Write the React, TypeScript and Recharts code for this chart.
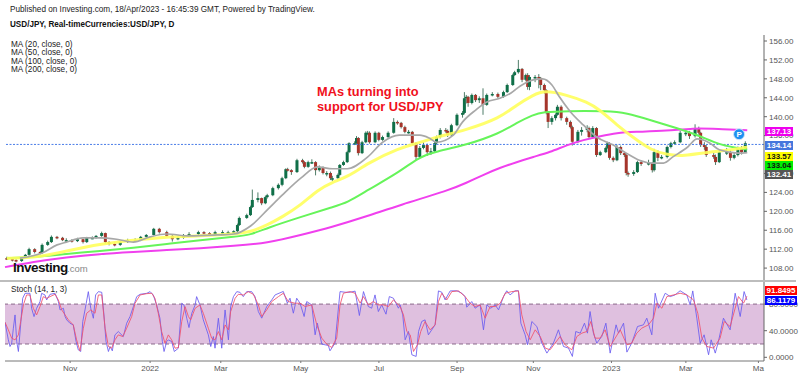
import {
  Bar,
  ComposedChart,
  Line,
  ReferenceArea,
  ReferenceDot,
  ReferenceLine,
  XAxis,
  YAxis,
} from "recharts";

// daily candles (session number from the left edge)
const candleBars = [
  1, 4, 6, 9, 11, 13, 16, 19, 20, 23,
  25, 28, 31, 33, 36, 39, 42, 44, 47, 49,
  52, 54, 56, 59, 62, 66, 70, 73, 76, 80,
  83, 87, 90, 93, 96, 99, 104, 107, 110, 113,
  117, 120, 123, 125, 126, 130, 132, 133, 136, 138,
  140, 141, 144, 147, 149, 151, 152, 154, 157, 160,
  161, 163, 165, 167, 169, 171, 173, 175, 176, 179,
  180, 182, 184, 185, 188, 189, 190, 192, 194, 195,
  196, 199, 201, 203, 206, 209, 211, 213, 215, 217,
  219, 221, 223, 225, 227, 229, 231, 232, 234, 237,
  238, 240, 243, 246, 247, 248, 249, 251, 253, 255,
  257, 259, 262, 265, 268, 270, 273, 274, 276, 278,
  280, 281, 282, 285, 287, 288, 290, 291, 292, 294,
  296, 297, 299, 302, 304, 305, 308, 310, 313, 314,
  316, 318, 320, 323, 324, 325, 327, 329, 331, 333,
  334, 335, 338, 340, 342, 346, 348, 349, 351, 353,
  356, 358, 360, 363, 366, 368, 371, 373, 374, 376,
  377, 381, 382, 384, 388, 390, 392, 394, 396, 398,
];

const closes = [
  109.9, 109.7, 109.5, 110.1, 110.8, 112.0, 111.4, 111.2, 112.9, 113.5,
  114.6, 114.4, 113.9, 113.9, 113.7, 114.1, 113.5, 114.4, 114.4, 114.8,
  115.4, 113.5, 113.1, 112.9, 113.5, 113.9, 113.9, 114.6, 115.0, 116.3,
  115.6, 114.8, 114.1, 114.4, 115.0, 115.2, 115.6, 115.4, 115.0, 115.6,
  115.6, 115.6, 115.8, 117.1, 118.6, 119.2, 120.9, 122.4, 122.8, 121.7,
  123.0, 123.4, 124.9, 125.6, 127.0, 128.9, 128.7, 128.3, 130.8, 130.4,
  129.4, 130.4, 130.4, 128.7, 129.2, 128.1, 128.1, 127.0, 127.0, 127.7,
  129.8, 130.4, 132.5, 134.4, 134.4, 135.5, 132.3, 134.6, 136.6, 136.6,
  134.6, 136.6, 135.1, 135.7, 136.6, 138.9, 138.7, 137.8, 136.8, 136.8,
  134.4, 131.5, 133.4, 134.0, 132.5, 132.7, 134.4, 135.7, 137.2, 137.0,
  136.1, 138.2, 140.4, 140.8, 143.9, 144.2, 142.9, 144.6, 143.5, 143.9,
  142.5, 144.6, 144.8, 144.2, 145.2, 146.7, 148.8, 149.4, 150.1, 147.8,
  148.8, 146.3, 148.4, 148.4, 148.2, 146.7, 145.6, 140.8, 138.9, 139.7,
  140.4, 142.1, 139.7, 138.9, 137.8, 134.7, 136.8, 137.2, 137.6, 135.7,
  137.6, 131.9, 132.5, 133.4, 134.4, 131.3, 130.8, 133.6, 132.3, 131.9,
  128.1, 127.9, 128.3, 130.4, 130.0, 130.2, 128.7, 132.5, 131.3, 131.5,
  133.6, 134.4, 134.6, 136.6, 136.6, 135.9, 137.6, 136.6, 134.0, 133.6,
  131.9, 131.5, 130.4, 132.5, 132.5, 131.3, 131.9, 133.4, 132.5, 134.4,
];

const opens = [
  110.1, 109.9, 109.7, 109.5, 110.1, 110.8, 112.0, 111.4, 111.2, 112.9,
  113.5, 114.6, 114.4, 113.9, 113.9, 113.7, 114.1, 113.5, 114.4, 114.4,
  114.8, 115.4, 113.5, 113.1, 112.9, 113.5, 113.9, 113.9, 114.6, 115.0,
  116.3, 115.6, 114.8, 114.1, 114.4, 115.0, 115.2, 115.6, 115.4, 115.0,
  115.6, 115.6, 115.6, 115.8, 117.1, 118.6, 119.2, 120.9, 122.4, 122.8,
  121.7, 123.0, 123.4, 124.9, 125.6, 127.0, 128.9, 128.7, 128.3, 130.8,
  130.4, 129.4, 130.4, 130.4, 128.7, 129.2, 128.1, 128.1, 127.0, 127.0,
  127.7, 129.8, 130.4, 132.5, 134.4, 134.4, 135.5, 132.3, 134.6, 136.6,
  136.6, 134.6, 136.6, 135.1, 135.7, 136.6, 138.9, 138.7, 137.8, 136.8,
  136.8, 134.4, 131.5, 133.4, 134.0, 132.5, 132.7, 134.4, 135.7, 137.2,
  137.0, 136.1, 138.2, 140.4, 140.8, 143.9, 144.2, 142.9, 144.6, 143.5,
  143.9, 142.5, 144.6, 144.8, 144.2, 145.2, 146.7, 148.8, 149.4, 150.1,
  147.8, 148.8, 146.3, 148.4, 148.4, 148.2, 146.7, 145.6, 140.8, 138.9,
  139.7, 140.4, 142.1, 139.7, 138.9, 137.8, 134.7, 136.8, 137.2, 137.6,
  135.7, 137.6, 131.9, 132.5, 133.4, 134.4, 131.3, 130.8, 133.6, 132.3,
  131.9, 128.1, 127.9, 128.3, 130.4, 130.0, 130.2, 128.7, 132.5, 131.3,
  131.5, 133.6, 134.4, 134.6, 136.6, 136.6, 135.9, 137.6, 136.6, 134.0,
  133.6, 131.9, 131.5, 130.4, 132.5, 132.5, 131.3, 131.9, 133.4, 132.5,
];

const highs = [
  110.4, 110.2, 109.9, 110.3, 111.0, 112.3, 112.2, 111.6, 113.2, 113.8,
  114.9, 114.8, 114.6, 114.3, 114.1, 114.4, 114.2, 114.6, 114.7, 115.0,
  115.7, 115.5, 113.7, 113.4, 113.7, 114.2, 114.3, 114.8, 115.2, 116.5,
  116.5, 115.9, 115.0, 114.7, 115.2, 115.6, 115.9, 115.8, 115.6, 115.9,
  116.0, 115.9, 116.0, 117.4, 118.9, 119.5, 121.2, 124.6, 124.0, 122.9,
  123.3, 123.7, 125.2, 125.9, 127.3, 129.1, 129.2, 128.9, 131.1, 131.1,
  130.6, 130.7, 131.0, 130.6, 129.7, 129.5, 128.5, 128.4, 127.5, 128.0,
  130.0, 130.7, 132.8, 134.6, 134.8, 135.9, 135.7, 134.9, 136.9, 137.0,
  136.9, 136.9, 136.8, 136.0, 136.9, 139.7, 139.2, 138.9, 138.1, 137.2,
  137.0, 134.6, 133.8, 134.6, 134.3, 133.4, 134.7, 136.0, 137.6, 137.6,
  137.3, 138.5, 140.7, 141.2, 145.2, 144.6, 144.4, 144.9, 144.8, 144.3,
  146.0, 144.9, 145.2, 145.1, 145.5, 147.0, 149.1, 149.7, 152.0, 150.3,
  149.1, 149.2, 148.8, 148.8, 149.0, 148.4, 147.0, 145.8, 141.2, 140.1,
  140.7, 142.5, 142.4, 140.0, 139.2, 138.1, 137.2, 137.8, 138.2, 137.9,
  138.0, 137.8, 132.8, 133.7, 134.7, 134.6, 131.6, 134.1, 133.9, 132.6,
  132.1, 128.4, 128.7, 130.7, 130.8, 130.9, 130.4, 133.2, 132.9, 131.9,
  133.9, 134.7, 135.0, 137.0, 137.2, 137.0, 138.4, 137.9, 136.8, 134.6,
  134.0, 132.4, 132.0, 133.0, 133.4, 133.0, 132.4, 133.7, 133.8, 134.8,
];

const lows = [
  109.7, 109.4, 109.2, 109.3, 110.0, 110.6, 111.1, 110.9, 111.0, 112.7,
  113.3, 114.1, 113.7, 113.6, 113.4, 113.5, 113.2, 113.3, 114.1, 114.2,
  114.6, 113.2, 112.8, 112.6, 112.7, 113.3, 113.6, 113.7, 114.4, 114.9,
  115.3, 114.6, 113.6, 113.9, 114.2, 114.9, 115.0, 115.1, 114.8, 114.8,
  115.2, 115.3, 115.4, 115.6, 116.9, 118.4, 119.0, 120.7, 121.9, 121.3,
  121.5, 122.7, 123.2, 124.6, 125.3, 126.8, 128.4, 127.7, 128.1, 130.1,
  129.1, 129.2, 130.0, 127.6, 128.4, 127.8, 127.4, 126.6, 126.4, 126.9,
  127.5, 129.6, 130.2, 132.3, 134.0, 134.2, 131.8, 132.1, 134.4, 136.1,
  134.3, 134.4, 134.8, 134.9, 135.5, 136.4, 138.3, 137.5, 136.5, 136.4,
  134.1, 130.8, 131.2, 133.1, 131.7, 131.9, 132.4, 134.1, 135.4, 136.6,
  135.7, 135.9, 138.0, 139.8, 140.5, 142.8, 142.1, 142.6, 143.1, 142.9,
  140.4, 142.3, 144.3, 143.9, 144.0, 145.0, 146.5, 148.6, 149.1, 147.3,
  147.5, 145.7, 145.6, 147.3, 146.0, 145.6, 144.9, 140.5, 137.6, 138.3,
  139.2, 140.2, 139.2, 138.3, 137.5, 133.9, 134.4, 136.0, 136.7, 135.3,
  135.4, 131.5, 131.7, 132.3, 133.2, 130.9, 130.4, 130.6, 131.9, 131.5,
  127.6, 127.3, 127.5, 128.1, 129.6, 129.7, 128.2, 128.4, 130.6, 131.0,
  131.2, 133.3, 134.1, 134.4, 135.9, 135.3, 135.6, 136.2, 133.6, 133.0,
  131.5, 131.1, 129.8, 130.2, 131.9, 130.7, 131.0, 131.6, 132.0, 132.3,
];

// moving averages: [session, value]
const ma20Points = [
  [8, 110.1], [15, 110.6], [20, 111.2], [28, 112.9], [33, 113.5], [42, 114.4], [51, 114.4], [60, 114.1],
  [69, 113.5], [78, 114.6], [87, 115.2], [99, 114.8], [114, 115.0], [123, 115.2], [132, 116.9], [141, 120.3],
  [149, 123.4], [159, 127.0], [168, 129.4], [176, 129.0], [184, 129.0], [195, 131.5], [203, 134.6], [212, 136.1],
  [223, 136.1], [228, 135.5], [232, 134.6], [241, 136.1], [246, 138.9], [253, 141.4], [259, 143.1], [266, 143.9],
  [272, 145.0], [277, 146.5], [284, 147.8], [289, 148.0], [294, 146.7], [298, 144.2], [304, 141.0], [311, 138.2],
  [318, 135.7], [327, 134.0], [334, 132.3], [341, 130.8], [348, 130.2], [354, 130.2], [359, 131.5], [367, 133.6],
  [372, 135.3], [379, 134.4], [384, 133.0], [394, 132.3], [399, 132.41],
];

const ma50Points = [
  [1, 110.1], [10, 110.1], [20, 110.5], [33, 111.6], [51, 113.1], [69, 113.9], [87, 114.6], [105, 114.8],
  [123, 115.2], [132, 115.6], [141, 117.1], [149, 118.8], [159, 121.3], [168, 124.5], [176, 126.2], [184, 127.2],
  [195, 130.2], [212, 133.4], [222, 134.4], [230, 135.5], [248, 137.2], [266, 139.7], [275, 142.5], [284, 144.6],
  [290, 145.6], [302, 144.6], [313, 143.1], [320, 141.4], [329, 138.2], [338, 135.5], [347, 133.0], [356, 131.9],
  [365, 131.7], [377, 132.5], [391, 133.0], [399, 133.57],
];

const ma100Points = [
  [1, 110.1], [15, 110.3], [33, 111.0], [51, 111.6], [69, 112.3], [87, 113.1], [105, 113.9], [123, 114.6],
  [132, 115.0], [141, 116.5], [159, 118.8], [176, 120.9], [184, 121.8], [195, 124.5], [212, 128.3], [222, 131.3],
  [230, 132.5], [248, 134.0], [266, 136.5], [275, 138.7], [284, 140.4], [289, 141.0], [302, 141.2], [324, 141.2],
  [334, 140.8], [347, 139.3], [361, 137.6], [374, 135.9], [384, 134.0], [399, 133.04],
];

const ma200Points = [
  [0, 108.2], [15, 109.3], [33, 110.3], [51, 111.0], [69, 111.4], [87, 111.8], [105, 112.2], [123, 112.7],
  [141, 113.3], [159, 115.0], [176, 116.7], [195, 119.0], [212, 121.3], [239, 124.5], [248, 126.0], [257, 127.7],
  [266, 129.2], [275, 130.4], [284, 131.5], [293, 132.5], [302, 134.0], [311, 135.1], [320, 135.9], [329, 136.6],
  [338, 136.8], [356, 137.0], [370, 137.6], [383, 137.4], [399, 137.13],
];

const stochKPoints = [
  [0, 52.7], [1.8, 26.2], [2.7, 16.2], [3.6, 21.2], [4.5, 43.7], [5.4, 63.7], [6.3, 23.7], [7.2, 8.7], [8.4, 48.7], [9.5, 88.7],
  [10.8, 96.2], [13.4, 96.2], [14.3, 73.7], [15.6, 61.2], [17, 73.7], [18.8, 83.7], [19.7, 96.2], [21.5, 93.7], [22.4, 86.2], [24.2, 94.7],
  [26.9, 96.2], [28.7, 83.7], [29.6, 71.2], [31.4, 73.7], [32.3, 61.2], [33.2, 56.2], [34.9, 51.2], [36.7, 48.7], [38.2, 23.7], [39.4, 11.2],
  [40.7, 8.7], [41.8, 53.7], [43, 71.2], [44.8, 98.7], [46.1, 73.7], [47.5, 58.7], [48.7, 93.7], [50.2, 98.7], [52, 97.7], [53.2, 63.7],
  [54.3, 23.7], [55.6, 8.7], [56.5, 16.2], [57.7, 9.7], [59.1, 33.7], [60.9, 38.7], [63.6, 31.2], [65.4, 51.2], [67.2, 61.2], [69, 76.2],
  [70.8, 91.2], [72.6, 94.7], [76.2, 96.2], [78, 98.7], [79.7, 93.7], [81.5, 78.7], [83.3, 58.7], [84.6, 23.7], [85.5, 8.7], [86.9, 23.7],
  [87.8, 26.2], [89.6, 23.7], [91, 8.7], [93.2, 13.7], [95, 81.2], [96.2, 78.7], [97.7, 58.7], [98.9, 44.7], [100.4, 66.2], [102.2, 78.7],
  [103, 91.2], [104.8, 78.7], [106.6, 56.2], [109.3, 33.7], [110.6, 16.2], [112, 31.2], [112.9, 13.7], [114.7, 58.7], [116.5, 13.7], [118.3, 71.2],
  [120.1, 26.2], [121.3, 76.2], [122.8, 91.2], [124.6, 98.7], [126.3, 97.7], [128.1, 91.2], [129.9, 98.7], [132.6, 98.7], [134.4, 91.2], [136.2, 68.7],
  [138, 58.8], [140.7, 76.3], [143.4, 86.3], [145.2, 93.8], [149.6, 99], [151.8, 81.3], [153.2, 88.8], [155, 66.3], [156.8, 88.8], [158.6, 81.3],
  [160.8, 61.3], [162.2, 83.8], [164.9, 78.8], [166.7, 33.8], [167.9, 51.3], [170.3, 19.8], [173.8, 17.8], [174.7, 9.8], [177.4, 21.3], [180.1, 98.8],
  [182.8, 97.8], [185.5, 97.8], [188.2, 99.5], [190.5, 62.8], [192.7, 98.8], [195.3, 76.3], [197.1, 73.8], [198.9, 93.8], [200.7, 68.8], [202.5, 78.8],
  [204.8, 64.8], [206.6, 91.3], [208.8, 88.8], [211.5, 73.8], [212.4, 78.8], [213.8, 63.8], [215.1, 26.3], [216.9, 38.8], [218.7, 3.8], [221, 1.3],
  [222.3, 38.8], [224, 53.8], [225.8, 56.3], [227.6, 33.8], [231.2, 48.8], [233, 99.8], [234.8, 97.8], [236.6, 86.3], [239.3, 99.8], [242.9, 100],
  [245.6, 96.3], [247.3, 91.3], [248.2, 75.3], [250.9, 83.8], [252.7, 73.8], [255.4, 78.8], [257.2, 41.3], [259, 78.8], [261.1, 73.8], [263.5, 78.8],
  [265.3, 71.3], [268, 91.3], [269.7, 100], [271.5, 93.8], [274.2, 100], [276, 100], [277.3, 51.3], [279.6, 33.8], [280.9, 18.8], [283.2, 53.8],
  [285.9, 46.3], [288.6, 21.3], [291.3, 6.3], [294.8, 21.3], [297.5, 41.3], [300.2, 16.3], [302.9, 13.8], [305, 1.3], [306.8, 38.8], [309.2, 36.3],
  [311.5, 51.3], [313.1, 36.3], [314.5, 68.8], [316.3, 36.3], [318.1, 21.3], [320.8, 31.3], [323, 51.3], [325.3, 6.3], [328.5, 48.8], [329.8, 36.3],
  [332.5, 51.3], [334.3, 7.8], [336.9, 21.3], [340, 46.3], [343.2, 48.8], [345, 58.8], [347.7, 33.8], [349.5, 96.3], [351.3, 73.8], [354.9, 96.3],
  [357.6, 91.3], [360.2, 93.8], [362.9, 100], [366.5, 93.8], [368.3, 78.8], [369.7, 99.8], [371.9, 58.8], [373.7, 21.3], [375.8, 33.8], [378.2, 3.8],
  [379.6, 26.3], [381.8, 6.3], [383.5, 23.8], [386.2, 58.8], [389.8, 41.3], [392.5, 96.3], [395.2, 61.3], [397.3, 98.8], [398.8, 86.12],
];

const stochDPoints = [
  [0, 52.7], [1.8, 41.2], [3.6, 28.7], [5.4, 26.2], [7.2, 33.7], [8.4, 53.7], [9.9, 78.7], [11.6, 93.7], [13.4, 93.7], [15.2, 73.7],
  [17, 63.7], [18.8, 76.2], [20.6, 91.2], [22.4, 88.7], [24.2, 91.2], [26.9, 94.7], [28.7, 86.2], [30.5, 71.2], [32.3, 63.7], [34.1, 56.2],
  [36.7, 48.7], [38.5, 26.2], [40.3, 9.7], [42.1, 43.7], [43.9, 66.2], [46.1, 71.2], [48.4, 66.2], [50.2, 93.7], [52, 93.7], [53.8, 43.7],
  [55.6, 16.2], [57.3, 13.7], [59.1, 26.2], [60.9, 33.7], [63.3, 31.2], [65.4, 43.7], [68.1, 61.2], [69.9, 81.2], [72.6, 93.7], [76.2, 95.7],
  [78.9, 96.2], [80.6, 88.7], [82.4, 66.2], [84.2, 38.7], [86, 21.2], [87.8, 33.7], [89.6, 26.2], [91.4, 13.7], [93.2, 14.7], [95, 53.7],
  [96.8, 76.2], [98.6, 61.2], [99.8, 56.2], [102.2, 73.7], [104.8, 78.7], [106.6, 66.2], [109.3, 43.7], [111.1, 28.7], [112.9, 26.2], [114.7, 38.7],
  [116.5, 26.2], [118.3, 48.7], [120.1, 41.2], [121.3, 68.7], [123.7, 88.7], [125.4, 94.7], [128.1, 93.7], [130.8, 98.7], [133.5, 94.7], [136.2, 78.7],
  [138, 61.3], [140.7, 71.3], [143.4, 83.8], [147, 91.3], [149.6, 96.3], [152.3, 83.8], [155.9, 81.3], [158.6, 81.3], [161.3, 76.3], [164.9, 78.8],
  [167.6, 48.8], [170.3, 28.8], [172.9, 19.8], [175.6, 14.8], [178.3, 28.8], [180.1, 78.8], [181.9, 96.3], [185.5, 98.8], [188.2, 96.3], [190.9, 81.3],
  [192.7, 91.3], [195.3, 78.8], [198, 83.8], [200.7, 78.8], [203.4, 78.8], [206.1, 76.3], [208.8, 86.3], [212.4, 76.3], [214.2, 63.8], [216, 38.8],
  [217.8, 33.8], [219.6, 8.8], [221.7, 18.8], [223.5, 38.8], [225.8, 53.8], [228.5, 41.3], [231.2, 48.8], [233, 83.8], [234.8, 96.3], [237.5, 86.3],
  [240.2, 98.8], [243.8, 99.8], [247.3, 91.3], [250, 81.3], [252.7, 76.3], [255.4, 78.8], [258.1, 58.8], [260.8, 76.3], [263.5, 76.3], [266.2, 81.3],
  [268.9, 96.3], [272.4, 98.8], [276, 99.8], [277.8, 63.8], [280.1, 38.8], [282.3, 26.3], [285, 41.3], [287.7, 31.3], [290.4, 13.8], [293, 11.3],
  [295.7, 21.3], [298.4, 31.3], [301.1, 18.8], [304.7, 11.3], [307.4, 31.3], [310.1, 36.3], [312.8, 38.8], [314.9, 53.8], [317.2, 28.8], [319.9, 28.8],
  [322.6, 41.3], [325.3, 16.3], [328, 28.8], [330.7, 41.3], [334.3, 18.8], [336.9, 21.3], [339.6, 36.3], [342.3, 43.8], [345.9, 48.8], [348.6, 58.8],
  [350.4, 81.3], [353.1, 73.8], [355.8, 91.3], [359.4, 93.8], [362.9, 96.3], [366.5, 93.8], [370.1, 86.3], [372.4, 66.3], [374.6, 28.8], [377.3, 16.3],
  [380.9, 13.8], [384.4, 28.8], [386.6, 53.8], [389.8, 46.3], [392.5, 73.8], [394.3, 91.3], [397, 81.3], [398.8, 91.85],
];

const priceTicks = [108, 112, 116, 120, 124, 128, 136, 140, 144, 148, 152, 156];
const stochTicks = [0, 40, 80];
const monthBars = [35, 78, 116, 159, 201, 243, 284, 326, 366, 405];
const monthLabels = ["Nov", "2022", "Mar", "May", "Jul", "Sep", "Nov", "2023", "Mar", "Ma"];
const maLegend = ["MA (20, close, 0)", "MA (50, close, 0)", "MA (100, close, 0)", "MA (200, close, 0)"];

const lastPrice = 134.14;
const publishedAt = "Published on Investing.com, 18/Apr/2023 - 16:45:39 GMT, Powered by TradingView.";
const symbolTitle = "USD/JPY, Real-timeCurrencies:USD/JPY, D";

const FONT = '"Liberation Sans", Arial, sans-serif';
const AXIS_TEXT = "#555";

const candles = candleBars.map((bar, i) => ({
  bar,
  range: [lows[i], highs[i]],
  open: opens[i],
  close: closes[i],
}));

const toTable = (points: number[][]) => points.map(([bar, value]) => ({ bar, value }));

const CandleShape = (props: any) => {
  const { x, y, width, height, payload } = props;
  const [low, high] = payload.range;
  const perUnit = Math.abs(height) / (high - low);
  const cx = x + width / 2;
  const openY = y + (high - payload.open) * perUnit;
  const closeY = y + (high - payload.close) * perUnit;
  const up = payload.close >= payload.open;
  const color = up ? "#0f6f48" : "#a5352b";

  return (
    <g>
      <line x1={cx} x2={cx} y1={y} y2={y + Math.abs(height)} stroke="#4f7d68" strokeWidth={1} />
      <rect
        x={cx - 1.5}
        y={Math.min(openY, closeY)}
        width={3}
        height={Math.max(Math.abs(closeY - openY), 1.5)}
        fill={color}
      />
    </g>
  );
};

const Tag = ({ top, width = 28, bg, color, text }: { top: number; width?: number; bg: string; color: string; text: string }) => (
  <div
    style={{
      position: "absolute",
      left: 765,
      top,
      width,
      height: 9,
      lineHeight: "9px",
      background: bg,
      color,
      fontSize: 8,
      fontWeight: "bold",
      textAlign: "center",
    }}
  >
    {text}
  </div>
);

const textLine = (left: number, top: number, size: number) => ({
  position: "absolute" as const,
  left,
  top,
  fontSize: size,
  lineHeight: `${size}px`,
  whiteSpace: "nowrap" as const,
  color: "#222",
});

export default function App() {
  return (
    <div
      style={{
        position: "absolute",
        left: 0,
        top: 0,
        width: 800,
        height: 376,
        overflow: "hidden",
        background: "#fff",
        fontFamily: FONT,
      }}
    >
      <div style={{ position: "absolute", left: 0, top: 0 }}>
        <ComposedChart
          width={800}
          height={281}
          data={candles}
          margin={{ top: 35, right: 0, bottom: 0, left: 5 }}
        >
          <XAxis dataKey="bar" type="number" domain={[0, 408]} hide />
          <YAxis
            orientation="right"
            width={36}
            domain={[105.27, 157.27]}
            ticks={priceTicks}
            tickFormatter={(v: number) => v.toFixed(2)}
            tick={{ fill: AXIS_TEXT, fontSize: 8, fontFamily: FONT }}
            tickSize={3}
            stroke="#666"
            allowDataOverflow
          />
          <ReferenceLine y={lastPrice} stroke="#4a7de8" strokeDasharray="2 1.5" />
          <Bar dataKey="range" barSize={3} shape={CandleShape} isAnimationActive={false} />
          <Line data={toTable(ma200Points)} dataKey="value" type="basis" stroke="#f040ee" strokeWidth={2} dot={false} isAnimationActive={false} />
          <Line data={toTable(ma100Points)} dataKey="value" type="basis" stroke="#66f45a" strokeWidth={2} dot={false} isAnimationActive={false} />
          <Line data={toTable(ma50Points)} dataKey="value" type="basis" stroke="#ffff5c" strokeWidth={3} strokeOpacity={0.9} dot={false} isAnimationActive={false} />
          <Line data={toTable(ma20Points)} dataKey="value" type="monotone" stroke="#a8a8a8" strokeWidth={1.7} dot={false} isAnimationActive={false} />
          <ReferenceDot
            x={394.6}
            y={136.3}
            r={5.5}
            fill="#1e90f0"
            stroke="#cfe6fb"
            label={{ value: "P", fill: "#fff", fontSize: 8, fontWeight: "bold", position: "center" }}
          />
        </ComposedChart>
      </div>

      <div style={{ position: "absolute", left: 0, top: 282 }}>
        <ComposedChart width={800} height={94} margin={{ top: 0, right: 0, bottom: 0, left: 5 }}>
          <XAxis
            dataKey="bar"
            type="number"
            domain={[0, 408]}
            ticks={monthBars}
            tickFormatter={(v: number) => monthLabels[monthBars.indexOf(v)]}
            tick={{ fill: AXIS_TEXT, fontSize: 8, fontFamily: FONT }}
            tickSize={2}
            height={15}
            stroke="#777"
            interval={0}
            allowDataOverflow
          />
          <YAxis
            orientation="right"
            width={36}
            domain={[-5.56, 113.2]}
            ticks={stochTicks}
            tickFormatter={(v: number) => v.toFixed(4)}
            tick={{ fill: AXIS_TEXT, fontSize: 8, fontFamily: FONT }}
            tickSize={3}
            stroke="#666"
            allowDataOverflow
          />
          <ReferenceArea y1={20} y2={80} fill="#dfc0df" fillOpacity={1} stroke="none" />
          <ReferenceLine y={80} stroke="#8a6a8a" strokeDasharray="4 3" />
          <ReferenceLine y={20} stroke="#8a6a8a" strokeDasharray="4 3" />
          <Line data={toTable(stochKPoints)} dataKey="value" stroke="#6a5cf0" strokeWidth={1} strokeOpacity={0.85} dot={false} isAnimationActive={false} />
          <Line data={toTable(stochDPoints)} dataKey="value" stroke="#f0506c" strokeWidth={1} strokeOpacity={0.85} dot={false} isAnimationActive={false} />
        </ComposedChart>
      </div>

      <div style={{ position: "absolute", left: 0, right: 4, top: 280, height: 2, background: "#bdbdbd" }} />

      <div style={{ ...textLine(10, 6, 8.2) }}>{publishedAt}</div>
      <div style={{ ...textLine(10, 21, 8.15), fontWeight: "bold", color: "#111" }}>{symbolTitle}</div>
      {maLegend.map((m, i) => (
        <div key={m} style={{ ...textLine(11, 41 + i * 8.4, 8.2) }}>
          {m}
        </div>
      ))}
      <div style={{ ...textLine(11, 286, 8.2) }}>Stoch (14, 1, 3)</div>

      <div style={{ ...textLine(317, 86, 12.8), fontWeight: "bold", color: "#f01020" }}>MAs turning into</div>
      <div style={{ ...textLine(317, 101, 12.8), fontWeight: "bold", color: "#f01020" }}>support for USD/JPY</div>

      <div style={{ ...textLine(13, 261, 13.5), fontWeight: "bold", color: "#111", letterSpacing: -0.5 }}>Investing</div>
      <div style={{ ...textLine(67, 264, 9.5), color: "#888" }}>.com</div>

      <Tag top={127} bg="#ee00ee" color="#fff" text="137.13" />
      <Tag top={141} bg="#4577dd" color="#fff" text="134.14" />
      <Tag top={152} bg="#ffff00" color="#111" text="133.57" />
      <Tag top={161} bg="#00ee00" color="#111" text="133.04" />
      <Tag top={170} bg="#555555" color="#fff" text="132.41" />
      <Tag top={286} width={32} bg="#ff0000" color="#fff" text="91.8495" />
      <Tag top={296} width={32} bg="#0000ff" color="#fff" text="86.1179" />
    </div>
  );
}
